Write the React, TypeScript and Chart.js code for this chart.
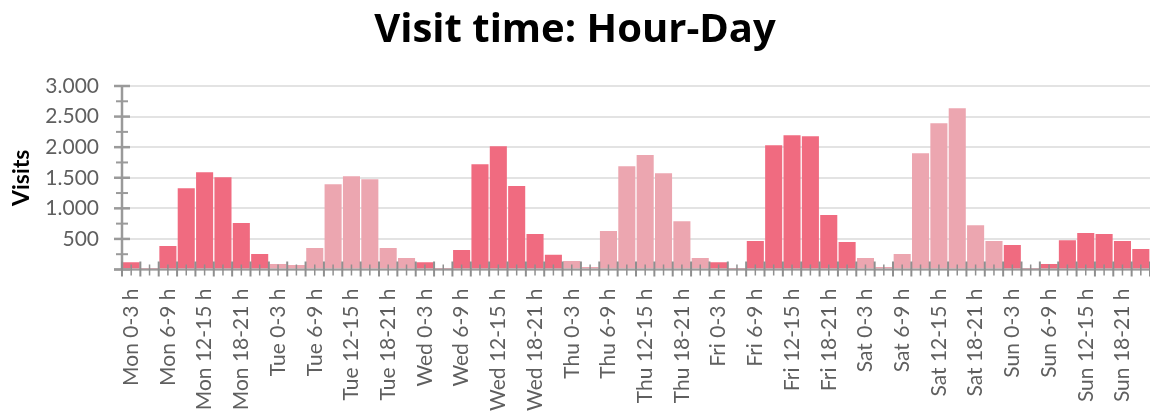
import React, { useEffect, useRef } from 'react';
import { Chart, registerables } from 'chart.js';

Chart.register(...registerables);

// ---- data ----
const days = ['Mon', 'Tue', 'Wed', 'Thu', 'Fri', 'Sat', 'Sun'];
const slots = ['0-3 h', '3-6 h', '6-9 h', '9-12 h', '12-15 h', '15-18 h', '18-21 h', '21-24 h'];
const categories = days.flatMap((d) => slots.map((s) => `${d} ${s}`));

const visitsMon = [120, 25, 385, 1330, 1590, 1510, 760, 255];
const visitsTue = [90, 75, 350, 1395, 1525, 1475, 350, 190];
const visitsWed = [120, 25, 320, 1720, 2015, 1365, 580, 240];
const visitsThu = [140, 40, 630, 1690, 1870, 1575, 790, 190];
const visitsFri = [120, 25, 465, 2030, 2195, 2180, 890, 450];
const visitsSat = [190, 40, 255, 1900, 2390, 2635, 725, 465];
const visitsSun = [400, 25, 90, 480, 595, 580, 465, 335];
const visits = [
  ...visitsMon, ...visitsTue, ...visitsWed, ...visitsThu,
  ...visitsFri, ...visitsSat, ...visitsSun,
];

const dayColors = ['#F06B80', '#ECA6B0', '#F06B80', '#ECA6B0', '#F06B80', '#ECA6B0', '#F06B80'];

const yTickValues = [0, 500, 1000, 1500, 2000, 2500, 3000];
const yTickLabels = ['', '500', '1.000', '1.500', '2.000', '2.500', '3.000'];

const FONT = 'Lato, "Open Sans", sans-serif';
const TITLE_FONT = '"Open Sans", Lato, sans-serif';
const AXIS_GRAY = '#9a9a9a';

const axisDecor = {
  id: 'axisDecor',
  afterDatasetsDraw(chart: any) {
    const { ctx, chartArea } = chart;
    const x = chart.scales.x;
    const y = chart.scales.y;
    const y0 = y.getPixelForValue(0);
    const left = chartArea.left;
    const line = (x1: number, y1: number, x2: number, y2: number, w: number, c: string) => {
      ctx.beginPath();
      ctx.lineWidth = w;
      ctx.strokeStyle = c;
      ctx.moveTo(x1, y1);
      ctx.lineTo(x2, y2);
      ctx.stroke();
    };
    ctx.save();
    // axis lines
    line(left, y.getPixelForValue(3000), left, y0, 2.5, AXIS_GRAY);
    line(left - 8, y0, chartArea.right, y0, 2, AXIS_GRAY);
    // y ticks: major at label values, minor halfway
    for (let k = 0; k < yTickValues.length; k++) {
      const py = y.getPixelForValue(yTickValues[k]);
      line(left - 8, py, left + 8, py, 2.5, AXIS_GRAY);
      if (k > 0) {
        const pm = y.getPixelForValue((yTickValues[k] + yTickValues[k - 1]) / 2);
        line(left - 6, pm, left + 6, pm, 2, AXIS_GRAY);
      }
    }
    // x ticks: boundaries and centers
    const n = categories.length;
    const w = x.getPixelForValue(1) - x.getPixelForValue(0);
    for (let i = 0; i <= n; i++) {
      const bx = x.getPixelForValue(i) - w / 2;
      line(bx, y0 - 8, bx, y0 + 7, 2, '#8f8f8f');
    }
    for (let i = 0; i < n; i++) {
      const cx = x.getPixelForValue(i);
      line(cx, y0 - 5, cx, y0 + 6, 1.5, '#8f8f8f');
    }
    ctx.restore();
  },
};

export default function App() {
  const ref = useRef<HTMLCanvasElement | null>(null);

  useEffect(() => {
    if (!ref.current) return;
    const chart = new Chart(ref.current, {
      type: 'bar',
      data: {
        labels: categories,
        datasets: [
          {
            label: 'Visits',
            data: visits,
            backgroundColor: visits.map((_, i) => dayColors[Math.floor(i / slots.length)]),
            borderWidth: 0,
            barPercentage: 0.93,
            categoryPercentage: 1,
          },
        ],
      },
      options: {
        animation: false,
        responsive: true,
        maintainAspectRatio: false,
        layout: { padding: 0 },
        plugins: {
          legend: { display: false },
          tooltip: { enabled: false },
          title: {
            display: true,
            text: 'Visit time: Hour-Day',
            color: '#000',
            font: { family: TITLE_FONT, size: 40, weight: 'bold', lineHeight: 1.2 },
            padding: { top: 7, bottom: 31 },
          },
        },
        scales: {
          x: {
            type: 'category',
            offset: true,
            grid: { display: false, drawTicks: false },
            border: { display: false },
            ticks: {
              autoSkip: false,
              minRotation: 90,
              maxRotation: 90,
              padding: 19,
              color: '#5f5f5f',
              font: { family: FONT, size: 21 },
              callback: (_v: any, i: number) => (i % 2 === 0 ? categories[i] : ''),
            },
            afterFit: (s: any) => {
              s.height = 144.5;
              s.paddingLeft = 0;
              s.paddingRight = 0;
            },
          },
          y: {
            min: 0,
            max: 3000,
            ticks: {
              stepSize: 500,
              padding: 23,
              color: '#5f5f5f',
              font: { family: FONT, size: 21 },
              callback: (v: any) => {
                const k = yTickValues.indexOf(Number(v));
                return k >= 0 ? yTickLabels[k] : '';
              },
            },
            grid: { color: '#e3e3e3', lineWidth: 2, drawTicks: false },
            border: { display: false },
            title: {
              display: true,
              text: 'Visits',
              color: '#000',
              font: { family: FONT, size: 23, weight: 'bold', lineHeight: 1.2 },
              padding: { top: 8, bottom: 0 },
            },
            afterFit: (s: any) => {
              s.width = 122;
              s.paddingTop = 0;
              s.paddingBottom = 0;
            },
          },
        },
      },
      plugins: [axisDecor],
    } as any);
    return () => chart.destroy();
  }, []);

  return (
    <div style={{ position: 'absolute', left: 0, top: 0, width: 1150, height: 414 }}>
      <canvas ref={ref} />
    </div>
  );
}
